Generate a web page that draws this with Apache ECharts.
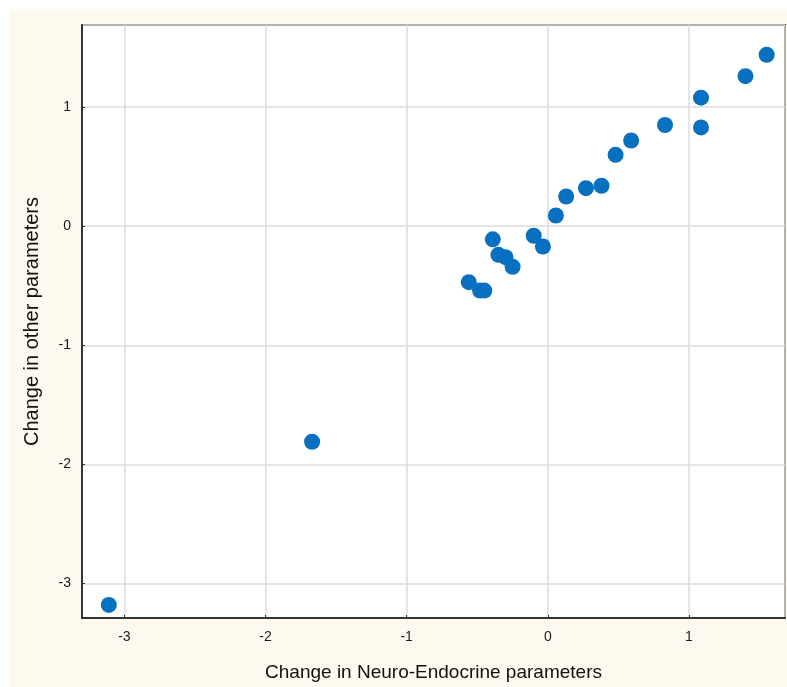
<!DOCTYPE html>
<html>
<head>
<meta charset="utf-8">
<script src="https://cdn.jsdelivr.net/npm/echarts@6/dist/echarts.min.js"></script>
<style>
html,body{margin:0;padding:0;background:#ffffff;}
#chart{width:787px;height:687px;}
</style>
</head>
<body>
<div id="chart"></div>
<script>
// Change in Neuro-Endocrine parameters (x) vs change in other parameters (y)
const xValues = [-3.11, -1.67, -0.56, -0.48, -0.45, -0.39, -0.35, -0.30, -0.25, -0.10, -0.035, 0.057, 0.13, 0.27, 0.38, 0.48, 0.59, 0.83, 1.085, 1.085, 1.40, 1.55];
const yValues = [-3.18, -1.81, -0.47, -0.54, -0.54, -0.11, -0.24, -0.26, -0.34, -0.08, -0.17, 0.09, 0.25, 0.32, 0.34, 0.60, 0.72, 0.85, 1.08, 0.83, 1.26, 1.44];
const xTitle = 'Change in Neuro-Endocrine parameters';
const yTitle = 'Change in other parameters';

const points = xValues.map((x, i) => [x, yValues[i]]);

const chart = echarts.init(document.getElementById('chart'), null, {renderer: 'canvas'});
const intLabel = v => (Math.abs(v - Math.round(v)) < 1e-9 ? String(Math.round(v)) : '');
const font = '"Liberation Sans", Arial, sans-serif';

chart.setOption({
  backgroundColor: '#ffffff',
  animation: false,
  graphic: [{
    type: 'rect',
    z: -10,
    silent: true,
    shape: {x: 9, y: 9, width: 778, height: 678},
    style: {fill: '#fef9ee'}
  }],
  grid: {
    left: 82, top: 25, right: 2, bottom: 69,
    show: true,
    backgroundColor: '#ffffff',
    borderColor: '#333333',
    borderWidth: 2,
    containLabel: false
  },
  xAxis: {
    type: 'value',
    min: -3.3, max: 1.68,
    splitNumber: 5,
    name: xTitle,
    nameLocation: 'middle',
    nameGap: 45,
    nameTextStyle: {fontFamily: font, fontSize: 19, color: '#111'},
    axisLine: {show: true, onZero: false, lineStyle: {color: '#333', width: 2}},
    axisTick: {show: true, inside: true, length: 3, lineStyle: {color: '#333'}},
    axisLabel: {formatter: intLabel, showMinLabel: false, showMaxLabel: false, fontFamily: font, fontSize: 14, color: '#1a1a1a', margin: 12},
    splitLine: {show: true, lineStyle: {color: '#dddddd', width: 1.5}}
  },
  yAxis: {
    type: 'value',
    min: -3.29, max: 1.69,
    splitNumber: 5,
    name: yTitle,
    nameLocation: 'middle',
    nameGap: 40,
    nameTextStyle: {fontFamily: font, fontSize: 20, color: '#111'},
    axisLine: {show: true, onZero: false, lineStyle: {color: '#333', width: 2}},
    axisTick: {show: true, inside: true, length: 3, lineStyle: {color: '#333'}},
    axisLabel: {formatter: intLabel, showMinLabel: false, showMaxLabel: false, fontFamily: font, fontSize: 14, color: '#1a1a1a', margin: 11},
    splitLine: {show: true, lineStyle: {color: '#dddddd', width: 1.5}}
  },
  series: [{
    type: 'scatter',
    data: points,
    symbol: 'circle',
    symbolSize: 16,
    itemStyle: {color: '#0870c0', opacity: 1}
  }]
});
</script>
</body>
</html>
